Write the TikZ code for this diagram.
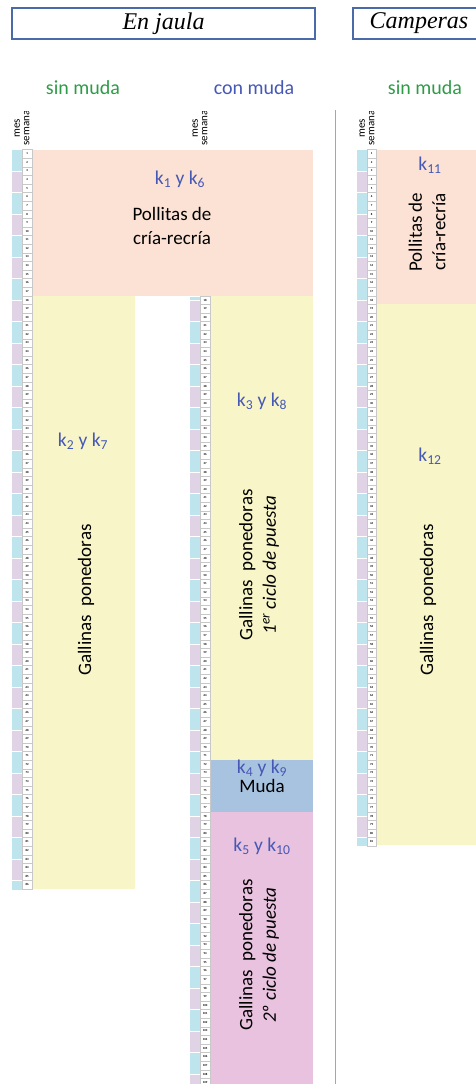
\documentclass[tikz,border=0pt]{standalone}
\usepackage{fontspec}
\setmainfont{Carlito}
\newfontfamily\hdfont{Liberation Serif}
\definecolor{peach}{HTML}{FBE2D4}
\definecolor{ylw}{HTML}{F8F6C8}
\definecolor{mudab}{HTML}{A8C3E0}
\definecolor{pinkb}{HTML}{E8C2DE}
\definecolor{mcyan}{HTML}{BEE4EE}
\definecolor{mlav}{HTML}{E0D3E6}
\definecolor{kblue}{HTML}{4658B6}
\definecolor{sgreen}{HTML}{2E9B47}
\definecolor{hborder}{HTML}{4A6BA8}
\definecolor{cellgray}{HTML}{C8C8C8}
\tikzset{
  hdbox/.style={draw=hborder,line width=1.2pt,fill=white},
  hdtext/.style={font=\hdfont\itshape\fontsize{24}{26}\selectfont,inner sep=0pt},
  grp/.style={font=\fontsize{20}{22}\selectfont,inner sep=0pt},
  klab/.style={text=kblue,font=\fontsize{19.5}{21}\selectfont,inner sep=0pt},
  body/.style={font=\fontsize{19}{23.5}\selectfont,align=center,inner sep=0pt},
  weekcell/.style={fill=white,draw=cellgray,line width=0.4pt},
  weeknum/.style={font=\fontsize{3}{3}\selectfont\bfseries,inner sep=0pt},
  mslab/.style={font=\fontsize{11}{9.5}\selectfont,rotate=90,align=center,inner sep=0pt}
}
\newcommand\wkcol[4]{% x, prefix, first, last
  \foreach \w in {#3,...,#4}{%
    \pgfmathsetmacro\ya{149.5+(\w-1)*8.6}%
    \draw[weekcell] (#1,\ya) rectangle ++(9.5,8.6);
    \node[weeknum] (#2\w) at (#1+4.75,\ya+4.3) {\w};
  }}
\newcommand\mocol[4]{% x, top clip, bottom clip, count
  \begin{scope}
    \clip (#1,#2) rectangle (#1+10,#3);
    \foreach \m in {0,...,#4}{%
      \pgfmathsetmacro\yb{149.5+\m*21.5}%
      \pgfmathparse{mod(\m,2)==0?"mcyan":"mlav"}%
      \edef\mc{\pgfmathresult}%
      \fill[\mc] (#1,\yb) rectangle ++(10,21.5);
      \draw[white,line width=0.6pt] (#1,\yb) -- ++(10,0);
    }
  \end{scope}}
\begin{document}
\begin{tikzpicture}[x=1pt,y=-1pt]
\useasboundingbox (0,0) rectangle (475,1084);
% headers
\draw[hdbox] (12,8) rectangle (315,39);
\node[hdtext] (hj) at (163.5,23.5) {En jaula};
\draw[hdbox] (353,8) rectangle (500,39);
\node[hdtext] (hc) at (419,23.5) {Camperas};
\node[grp,text=sgreen] (g1) at (83,88) {sin muda};
\node[grp,text=kblue] (g2) at (254,88) {con muda};
\node[grp,text=sgreen] (g3) at (425,88) {sin muda};
% separator
\draw[gray!70,line width=0.8pt] (335,110) -- (335,1084);
% mes / semana labels
\begin{scope}
  \clip (0,111) rectangle (475,150);
  \node[mslab] (ms1) at (22,128) {mes\\semana};
  \node[mslab] (ms2) at (200,128) {mes\\semana};
  \node[mslab] (ms3) at (367,128) {mes\\semana};
\end{scope}
% blocks
\fill[peach] (32,149.5) rectangle (313,295.7);
\fill[ylw] (32,295.7) rectangle (135,889.1);
\fill[ylw] (210,295.7) rectangle (313,760.1);
\fill[mudab] (210,760.1) rectangle (313,811.7);
\fill[pinkb] (210,811.7) rectangle (313,1084);
\fill[peach] (376,149.5) rectangle (480,304.3);
\fill[ylw] (376,304.3) rectangle (480,845.1);
% month columns
\mocol{12}{149.5}{889.1}{35}
\mocol{190}{297}{1084}{45}
\mocol{357}{149.5}{845.1}{33}
% week columns
\wkcol{22.3}{a}{1}{86}
\wkcol{200.3}{b}{18}{109}
\wkcol{366.8}{c}{1}{81}
% texts
\node[klab] (k16) at (180,179) {k\textsubscript{1} y k\textsubscript{6}};
\node[body] (p1) at (172,226) {Pollitas de\\cría-recría};
\node[klab] (k27) at (83,441) {k\textsubscript{2} y k\textsubscript{7}};
\node[body,rotate=90] (g1t) at (86,600) {Gallinas\ \ ponedoras};
\node[klab] (k38) at (262,401) {k\textsubscript{3} y k\textsubscript{8}};
\node[body,rotate=90] (g2t) at (259,565) {Gallinas\ \ ponedoras\\\itshape 1\textsuperscript{er} ciclo de puesta};
\node[klab] (k49) at (262,768) {k\textsubscript{4} y k\textsubscript{9}};
\node[body] (mu) at (262,786) {Muda};
\node[klab] (k510) at (262,846) {k\textsubscript{5} y k\textsubscript{10}};
\node[body,rotate=90] (g3t) at (259,955) {Gallinas\ \ ponedoras\\\itshape 2º ciclo de puesta};
\node[klab] (k11) at (430,165) {k\textsubscript{11}};
\node[body,rotate=90] (p2) at (427,232) {Pollitas de\\cría-recría};
\node[klab] (k12) at (430,456) {k\textsubscript{12}};
\node[body,rotate=90] (g4t) at (428,600) {Gallinas\ \ ponedoras};
\end{tikzpicture}
\end{document}
